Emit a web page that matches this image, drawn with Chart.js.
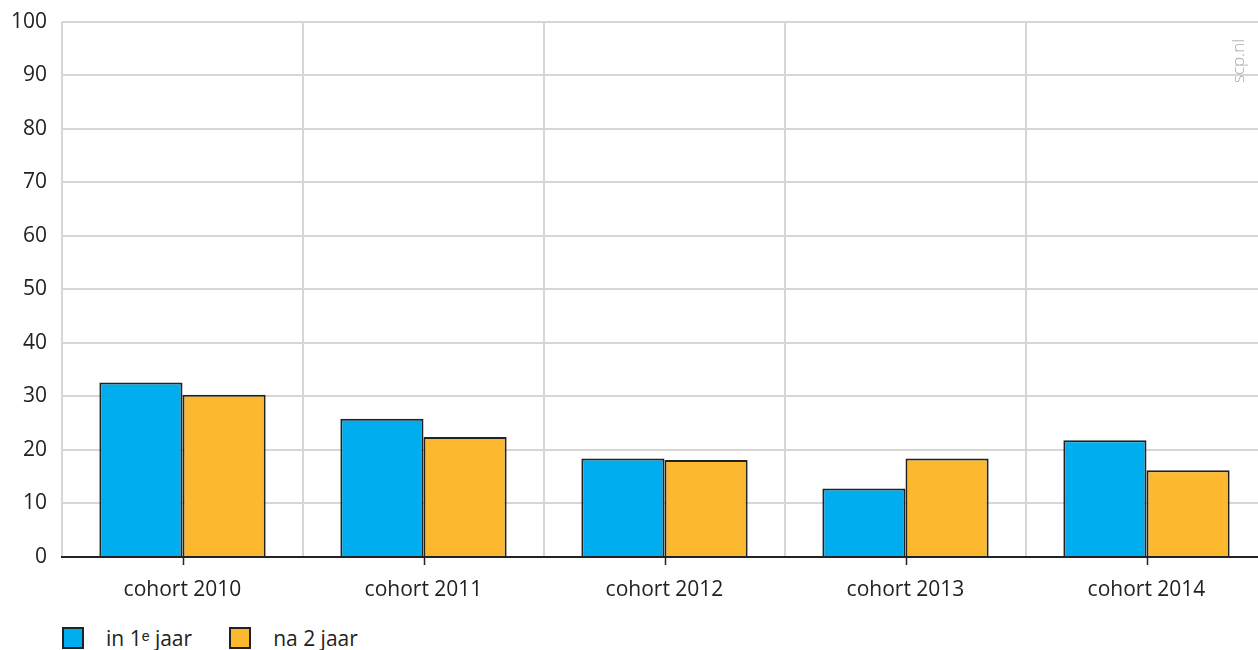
<!DOCTYPE html>
<html>
<head>
<meta charset="utf-8">
<script src="https://cdn.jsdelivr.net/npm/chart.js@4.4.1/dist/chart.umd.min.js"></script>
<style>
  body { margin: 0; overflow: hidden; background: #fff; font-family: "Open Sans", sans-serif; }
  #wrap { position: relative; width: 1270px; height: 606px; margin-top: -6px; }
  #legend { position: absolute; left: 62px; top: 626px; display: flex; color: #222; font-size: 21px; line-height: 24px; }
  .item { display: flex; align-items: center; margin-right: 37px; }
  .box { width: 18px; height: 18px; border: 2px solid #222; margin-right: 22px; }
</style>
</head>
<body>
<div id="wrap"><canvas id="chart"></canvas></div>
<div id="legend"></div>
<script>
const categories = ["cohort 2010", "cohort 2011", "cohort 2012", "cohort 2013", "cohort 2014"];
const firstYear = [32.6, 25.8, 18.4, 12.8, 21.8];   // in 1e jaar
const afterTwo = [30.3, 22.4, 18.1, 18.4, 16.2];    // na 2 jaar
const seriesNames = ["in 1ᵉ jaar", "na 2 jaar"];
const seriesColors = ["#00aeef", "#fcb930"];
const yTicks = [0, 10, 20, 30, 40, 50, 60, 70, 80, 90, 100];

const textColor = "#222";
const gridColor = "#d6d6d6";

// small tick marks under each category centre + the scp.nl credit
const extras = {
  id: "extras",
  afterDraw(chart) {
    const ctx = chart.ctx;
    const x = chart.scales.x;
    const bottom = chart.chartArea.bottom;
    ctx.save();
    ctx.strokeStyle = textColor;
    ctx.lineWidth = 1.5;
    categories.forEach((c, i) => {
      const px = Math.round(x.getPixelForValue(i)) + 0.5;
      ctx.beginPath();
      ctx.moveTo(px, bottom);
      ctx.lineTo(px, bottom + 8);
      ctx.stroke();
    });
    ctx.translate(1239, 67);
    ctx.rotate(-Math.PI / 2);
    ctx.fillStyle = "#a8a8a8";
    ctx.font = "300 17px 'Open Sans'";
    ctx.textAlign = "center";
    ctx.textBaseline = "middle";
    ctx.fillText("scp.nl", 0, 0);
    ctx.restore();
  }
};

const ctx = document.getElementById("chart").getContext("2d");
new Chart(ctx, {
  type: "bar",
  data: {
    labels: categories,
    datasets: [
      { label: seriesNames[0], data: firstYear, backgroundColor: seriesColors[0], borderColor: textColor, borderWidth: 2 },
      { label: seriesNames[1], data: afterTwo, backgroundColor: seriesColors[1], borderColor: textColor, borderWidth: 2 },
    ],
  },
  options: {
    responsive: true,
    maintainAspectRatio: false,
    animation: false,
    categoryPercentage: 0.69,
    barPercentage: 1,
    layout: { padding: { top: 15, right: 3, left: 0, bottom: 0 } },
    plugins: {
      legend: { display: false },
      tooltip: { enabled: false },
    },
    scales: {
      x: {
        grid: { offset: true, color: gridColor, lineWidth: 2, drawTicks: false },
        border: { color: textColor, width: 2 },
        ticks: { color: textColor, padding: 20, font: { family: "Open Sans", size: 21 } },
        afterFit(scale) { scale.height = 43; },
      },
      y: {
        min: 0,
        max: 100,
        afterBuildTicks(scale) { scale.ticks = yTicks.map(v => ({ value: v })); },
        grid: { color: gridColor, lineWidth: 2, drawTicks: false },
        border: { display: false },
        ticks: { color: textColor, padding: 15, font: { family: "Open Sans", size: 21 } },
        afterFit(scale) { scale.width = 62; },
      },
    },
  },
  plugins: [extras],
});

// legend below the chart
const legend = document.getElementById("legend");
seriesNames.forEach((name, i) => {
  const item = document.createElement("div");
  item.className = "item";
  const box = document.createElement("div");
  box.className = "box";
  box.style.background = seriesColors[i];
  const label = document.createElement("span");
  label.textContent = name;
  item.appendChild(box);
  item.appendChild(label);
  legend.appendChild(item);
});
</script>
</body>
</html>
